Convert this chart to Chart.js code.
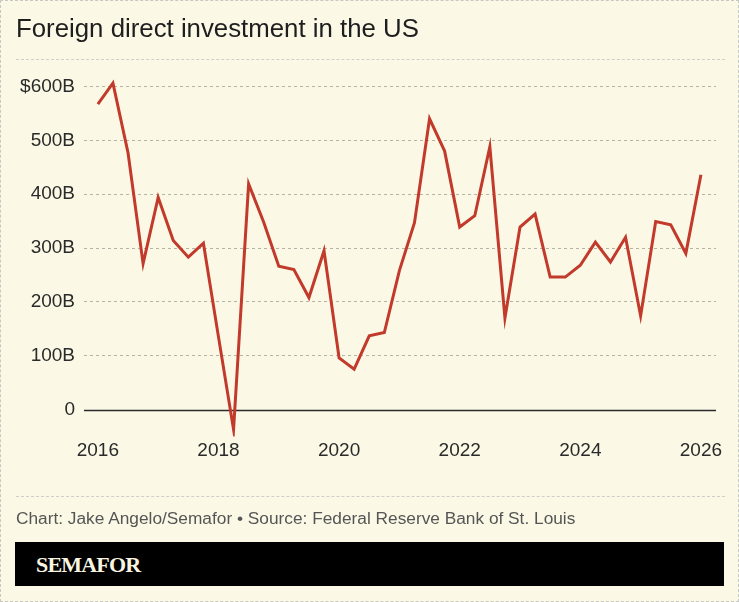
<!DOCTYPE html>
<html>
<head>
<meta charset="utf-8">
<script src="https://cdn.jsdelivr.net/npm/chart.js"></script>
<style>
  html, body { margin: 0; padding: 0; background: #fbf9e6; }
  #frame {
    position: relative; width: 739px; height: 602px; overflow: hidden;
    box-sizing: border-box; border: 1px dashed #c8c8c2; background: #fbf9e6;
    font-family: "Liberation Sans", Arial, sans-serif;
  }
  #chart { position: absolute; left: -1px; top: -1px; }
  .title { position: absolute; left: 15px; top: 14px; font-size: 25.8px; line-height: 26px; color: #1e1e1e; white-space: nowrap; }
  .sep { position: absolute; left: 15px; width: 709px; height: 0; border-top: 1.5px dashed #cfcfc8; }
  .note { position: absolute; left: 15px; top: 507px; font-size: 17.3px; line-height: 20px; color: #555; white-space: nowrap; }
  .bar { position: absolute; left: 14px; top: 541px; width: 709px; height: 44px; background: #000; }
  .logo { position: absolute; left: 21px; top: 10px; font-family: "Liberation Serif", "Times New Roman", serif; font-weight: bold; font-size: 22px; line-height: 26px; letter-spacing: -0.8px; color: #f8f5e0; }
</style>
</head>
<body>
<div id="frame">
  <canvas id="chart" width="739" height="602"></canvas>
  <div class="title">Foreign direct investment in the US</div>
  <div class="sep" style="top:58px"></div>
  <div class="sep" style="top:495px"></div>
  <div class="note">Chart: Jake Angelo/Semafor • Source: Federal Reserve Bank of St. Louis</div>
  <div class="bar"><div class="logo">SEMAFOR</div></div>
</div>
<script>
// quarterly FDI, billions of dollars
const quarters = [
  '2016Q1', '2016Q2', '2016Q3', '2016Q4',
  '2017Q1', '2017Q2', '2017Q3', '2017Q4',
  '2018Q1', '2018Q2', '2018Q3', '2018Q4',
  '2019Q1', '2019Q2', '2019Q3', '2019Q4',
  '2020Q1', '2020Q2', '2020Q3', '2020Q4',
  '2021Q1', '2021Q2', '2021Q3', '2021Q4',
  '2022Q1', '2022Q2', '2022Q3', '2022Q4',
  '2023Q1', '2023Q2', '2023Q3', '2023Q4',
  '2024Q1', '2024Q2', '2024Q3', '2024Q4',
  '2025Q1', '2025Q2', '2025Q3', '2025Q4',
  '2026Q1'
];
const fdiValues = [
  567, 606, 477, 271,
  394, 314, 283, 309,
  135, -37, 419, 348,
  266, 260, 208, 295,
  96, 75, 137, 143,
  258, 347, 540, 480,
  339, 360, 488, 170,
  339, 363, 246, 246,
  268, 311, 274, 320,
  174, 349, 343, 290,
  436
];
const yearTicks = [2016, 2018, 2020, 2022, 2024, 2026];
const valueTicks = [0, 100, 200, 300, 400, 500, 600];

const toYear = q => Number(q.slice(0, 4)) + (Number(q.slice(5)) - 1) / 4;
const points = quarters.map((q, i) => ({ x: toYear(q), y: fdiValues[i] }));

const tickFont = { family: '"Liberation Sans", Arial, sans-serif', size: 19 };

// solid zero line under the data
const zeroLine = {
  id: 'zeroLine',
  beforeDatasetsDraw(chart) {
    const { ctx, chartArea, scales } = chart;
    const y = Math.round(scales.y.getPixelForValue(0)) + 0.5;
    ctx.save();
    ctx.strokeStyle = '#2b2b2b';
    ctx.lineWidth = 1.5;
    ctx.beginPath();
    ctx.moveTo(chartArea.left, y);
    ctx.lineTo(chartArea.right, y);
    ctx.stroke();
    ctx.restore();
  }
};

new Chart(document.getElementById('chart'), {
  type: 'line',
  data: {
    datasets: [{
      data: points,
      borderColor: '#c23a2b',
      borderWidth: 3,
      pointRadius: 0,
      tension: 0,
      borderJoinStyle: 'miter'
    }]
  },
  options: {
    responsive: false,
    animation: false,
    layout: { padding: { left: 0, right: 23, top: 75.7, bottom: 125 } },
    plugins: { legend: { display: false }, tooltip: { enabled: false } },
    scales: {
      x: {
        type: 'linear',
        min: 2015.77,
        max: 2026.25,
        afterBuildTicks: s => { s.ticks = yearTicks.map(v => ({ value: v })); },
        afterFit: s => { s.height = 40.5; },
        grid: { display: false },
        border: { display: false },
        ticks: { font: tickFont, color: '#2a2a2a', padding: -5, maxRotation: 0, callback: v => String(v) }
      },
      y: {
        min: -50,
        max: 620,
        afterBuildTicks: s => { s.ticks = valueTicks.map(v => ({ value: v })); },
        afterFit: s => { s.width = 84; },
        grid: {
          drawTicks: false,
          color: c => c.tick && c.tick.value === 0 ? 'rgba(0,0,0,0)' : '#b5b3a8',
          lineWidth: 1
        },
        border: { display: false, dash: [3, 3] },
        ticks: {
          font: tickFont, color: '#2a2a2a', padding: 9,
          callback: v => v === 600 ? '$600B' : v === 0 ? '0' : v + 'B'
        }
      }
    }
  },
  plugins: [zeroLine]
});
</script>
</body>
</html>
